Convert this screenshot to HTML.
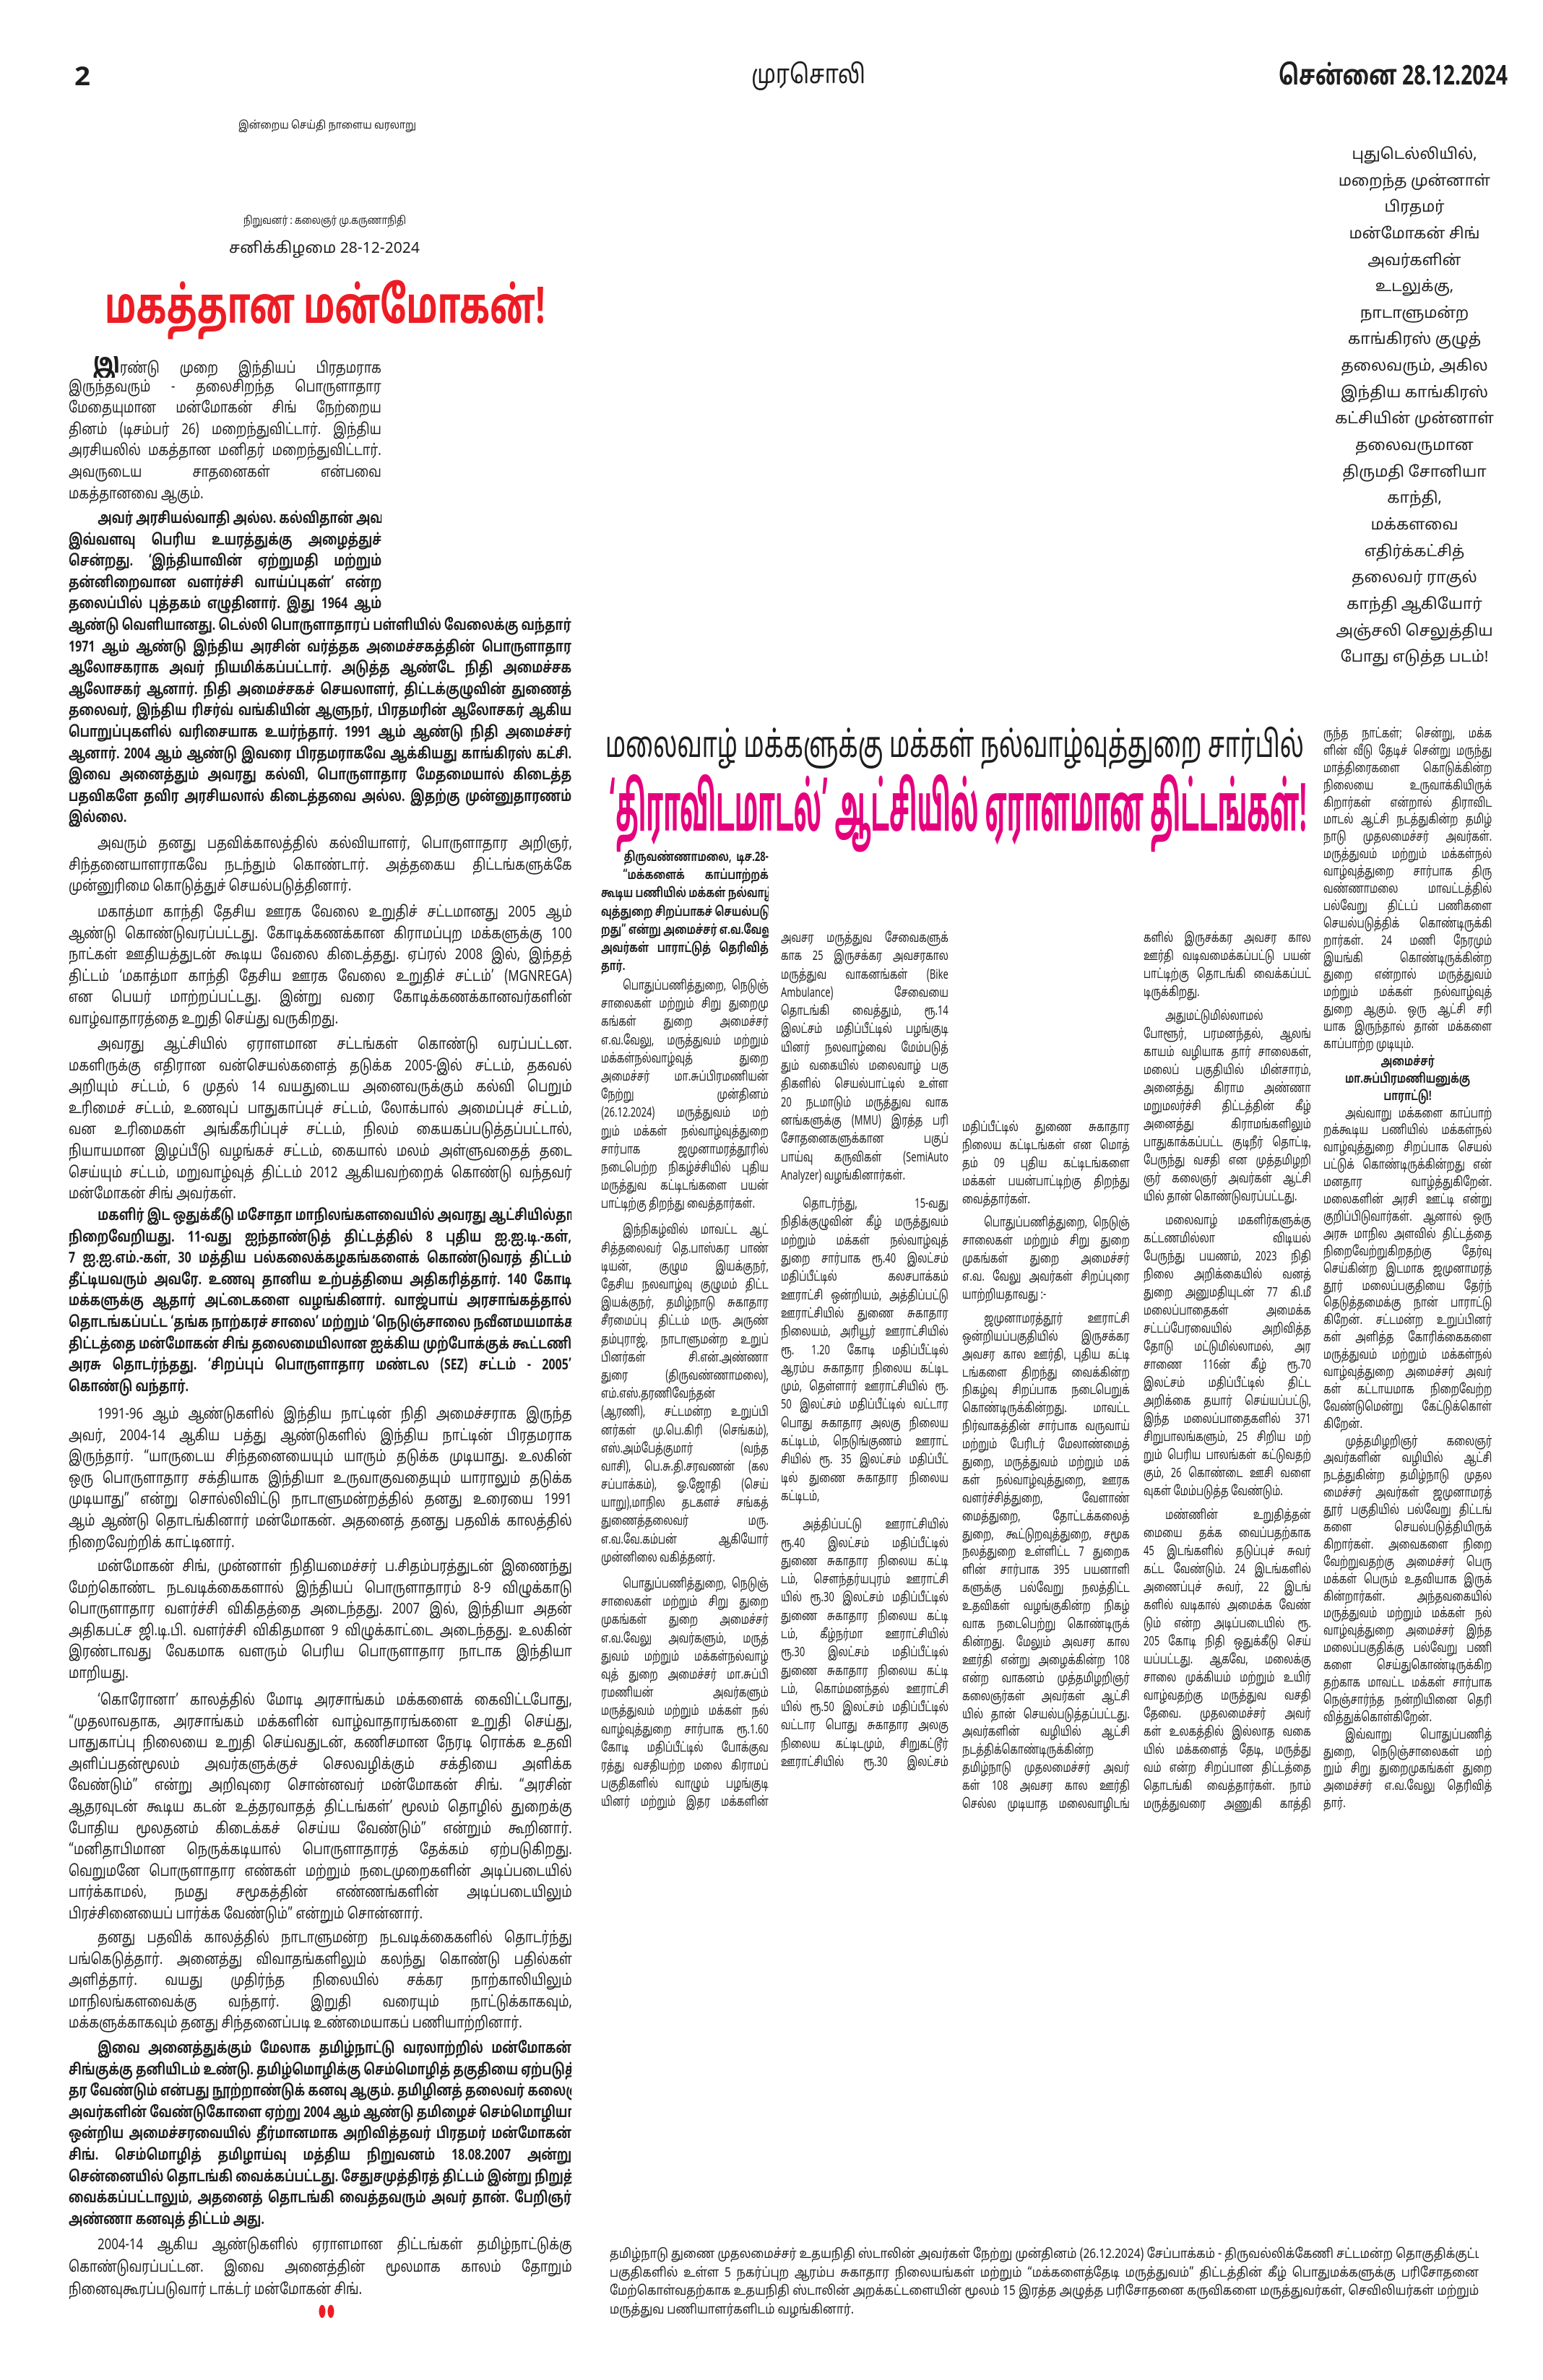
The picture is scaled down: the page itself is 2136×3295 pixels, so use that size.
<!DOCTYPE html>
<html lang="ta">
<head>
<meta charset="utf-8">
<style>
html,body{margin:0;padding:0;background:#fff;}
#pg{position:relative;width:2136px;height:3295px;background:#fff;overflow:hidden;
 font-family:"Noto Sans Tamil","Lohit Tamil","Latha","Liberation Sans","DejaVu Sans",sans-serif;color:#1e1e1e;}
.c{position:absolute;}
.c div{white-space:nowrap;overflow:hidden;text-align:justify;text-align-last:justify;box-sizing:border-box;}
.c div.l{text-align-last:left;}
.c div.ctr{text-align:center;text-align-last:center;font-weight:bold;}
.L{font-size:21px;width:871px;transform:scaleX(0.8);transform-origin:0 0;}
.L div{height:29.6px;line-height:29.6px;}
.L div.n{width:541px;}
.L div.i{padding-left:50px;}
.L.b{width:916px;transform:scaleX(0.76);}
.L.b div.n{width:570px;}
.L.b div.i{padding-left:53px;}
.b{font-weight:bold;}
.M{font-size:18px;width:322px;transform:scaleX(0.72);transform-origin:0 0;}
.M div.i{padding-left:42px;}
.g{margin-top:var(--g);}
.side{position:absolute;left:1800px;width:316px;font-size:21px;text-align:center;}
.side div{height:36.65px;line-height:36.65px;white-space:nowrap;}
svg{position:absolute;left:0;top:0;overflow:visible;}
.k1 div{height:25.2px;line-height:25.2px;}
.k2 div{height:25.3px;line-height:25.3px;}
.k3 div{height:24.9px;line-height:24.9px;}
.k4 div{height:25px;line-height:25px;}
.k5 div{height:23.9px;line-height:23.9px;}
.k6 div{height:25.7px;line-height:25.7px;}
</style>
</head>
<body>
<div id="pg">

<svg width="2136" height="3295" viewBox="0 0 2136 3295">
  <g font-family="Noto Sans Tamil, Lohit Tamil, Liberation Sans, DejaVu Sans, sans-serif">
    <text x="103" y="118" font-size="36" font-weight="bold" fill="#1e1e1e" textLength="22" lengthAdjust="spacingAndGlyphs">2</text>
    <text x="1040" y="115" font-size="36" fill="#1e1e1e" textLength="158" lengthAdjust="spacingAndGlyphs">முரசொலி</text>
    <text x="1770" y="117" font-size="38" font-weight="bold" fill="#1e1e1e" textLength="317" lengthAdjust="spacingAndGlyphs">சென்னை 28.12.2024</text>
    <text x="330" y="178" font-size="15" fill="#1e1e1e" textLength="246" lengthAdjust="spacingAndGlyphs">இன்றைய செய்தி நாளைய வரலாறு</text>
    <text x="337" y="310" font-size="15" fill="#1e1e1e" textLength="225" lengthAdjust="spacingAndGlyphs">நிறுவனர் : கலைஞர் மு.கருணாநிதி</text>
    <text x="317" y="350" font-size="21" fill="#1e1e1e" textLength="264" lengthAdjust="spacingAndGlyphs">சனிக்கிழமை 28-12-2024</text>
    <text x="145" y="447" font-size="70" font-weight="bold" fill="#ed1c24" textLength="610" lengthAdjust="spacingAndGlyphs">மகத்தான மன்மோகன்!</text>
    <text x="838" y="1048" font-size="50" fill="#1e1e1e" textLength="967" lengthAdjust="spacingAndGlyphs">மலைவாழ் மக்களுக்கு மக்கள் நல்வாழ்வுத்துறை சார்பில்</text>
    <text x="843" y="1150" font-size="92" font-weight="bold" fill="#e6007e" textLength="966" lengthAdjust="spacingAndGlyphs">‘திராவிடமாடல்’ ஆட்சியில் ஏராளமான திட்டங்கள்!</text>
    <ellipse cx="446" cy="3200" rx="4.5" ry="9" fill="#ed1c24"/>
    <ellipse cx="458" cy="3200" rx="4.5" ry="9" fill="#ed1c24"/>
  </g>
</svg>

<div class="side" style="top:197px;">
<div>புதுடெல்லியில்,</div><div>மறைந்த முன்னாள்</div><div>பிரதமர்</div><div>மன்மோகன் சிங்</div><div>அவர்களின்</div><div>உடலுக்கு,</div><div>நாடாளுமன்ற</div><div>காங்கிரஸ் குழுத்</div><div>தலைவரும், அகில</div><div>இந்திய காங்கிரஸ்</div><div>கட்சியின் முன்னாள்</div><div>தலைவருமான</div><div>திருமதி சோனியா</div><div>காந்தி,</div><div>மக்களவை</div><div>எதிர்க்கட்சித்</div><div>தலைவர் ராகுல்</div><div>காந்தி ஆகியோர்</div><div>அஞ்சலி செலுத்திய</div><div>போது எடுத்த படம்!</div>
</div>

<!-- LEFT ARTICLE -->
<div class="c L" style="left:95px;top:493px;">
<div class="n" style="padding-left:42px;"><span style="font-size:38px;font-weight:bold;">இ</span>ரண்டு முறை இந்தியப் பிரதமராக</div>
<div class="n">இருந்தவரும் - தலைசிறந்த பொருளாதார</div>
<div class="n">மேதையுமான மன்மோகன் சிங் நேற்றைய</div>
<div class="n">தினம் (டிசம்பர் 26) மறைந்துவிட்டார். இந்திய</div>
<div class="n">அரசியலில் மகத்தான மனிதர் மறைந்துவிட்டார்.</div>
<div class="n">அவருடைய சாதனைகள் என்பவை</div>
<div class="n l">மகத்தானவை ஆகும்.</div>
</div>

<div class="c L b" style="left:95px;top:705px;">
<div class="n i">அவர் அரசியல்வாதி அல்ல. கல்விதான் அவரை</div>
<div class="n">இவ்வளவு பெரிய உயரத்துக்கு அழைத்துச்</div>
<div class="n">சென்றது. ‘இந்தியாவின் ஏற்றுமதி மற்றும்</div>
<div class="n">தன்னிறைவான வளர்ச்சி வாய்ப்புகள்’ என்ற</div>
<div class="n">தலைப்பில் புத்தகம் எழுதினார். இது 1964 ஆம்</div>
<div>ஆண்டு வெளியானது. டெல்லி பொருளாதாரப் பள்ளியில் வேலைக்கு வந்தார்.</div>
<div>1971 ஆம் ஆண்டு இந்திய அரசின் வர்த்தக அமைச்சகத்தின் பொருளாதார</div>
<div>ஆலோசகராக அவர் நியமிக்கப்பட்டார். அடுத்த ஆண்டே நிதி அமைச்சக</div>
<div>ஆலோசகர் ஆனார். நிதி அமைச்சகச் செயலாளர், திட்டக்குழுவின் துணைத்</div>
<div>தலைவர், இந்திய ரிசர்வ் வங்கியின் ஆளுநர், பிரதமரின் ஆலோசகர் ஆகிய</div>
<div>பொறுப்புகளில் வரிசையாக உயர்ந்தார். 1991 ஆம் ஆண்டு நிதி அமைச்சர்</div>
<div>ஆனார். 2004 ஆம் ஆண்டு இவரை பிரதமராகவே ஆக்கியது காங்கிரஸ் கட்சி.</div>
<div>இவை அனைத்தும் அவரது கல்வி, பொருளாதார மேதமையால் கிடைத்த</div>
<div>பதவிகளே தவிர அரசியலால் கிடைத்தவை அல்ல. இதற்கு முன்னுதாரணம்</div>
<div class="l">இல்லை.</div>
</div>

<div class="c L" style="left:95px;top:1155px;">
<div class="i">அவரும் தனது பதவிக்காலத்தில் கல்வியாளர், பொருளாதார அறிஞர்,</div>
<div>சிந்தனையாளராகவே நடந்தும் கொண்டார். அத்தகைய திட்டங்களுக்கே</div>
<div class="l">முன்னுரிமை கொடுத்துச் செயல்படுத்தினார்.</div>
</div>

<div class="c L" style="left:95px;top:1250px;">
<div class="i">மகாத்மா காந்தி தேசிய ஊரக வேலை உறுதிச் சட்டமானது 2005 ஆம்</div>
<div>ஆண்டு கொண்டுவரப்பட்டது. கோடிக்கணக்கான கிராமப்புற மக்களுக்கு 100</div>
<div>நாட்கள் ஊதியத்துடன் கூடிய வேலை கிடைத்தது. ஏப்ரல் 2008 இல், இந்தத்</div>
<div>திட்டம் ‘மகாத்மா காந்தி தேசிய ஊரக வேலை உறுதிச் சட்டம்’ (MGNREGA)</div>
<div>என பெயர் மாற்றப்பட்டது. இன்று வரை கோடிக்கணக்கானவர்களின்</div>
<div class="l">வாழ்வாதாரத்தை உறுதி செய்து வருகிறது.</div>
</div>

<div class="c L" style="left:95px;top:1433px;">
<div class="i">அவரது ஆட்சியில் ஏராளமான சட்டங்கள் கொண்டு வரப்பட்டன.</div>
<div>மகளிருக்கு எதிரான வன்செயல்களைத் தடுக்க 2005-இல் சட்டம், தகவல்</div>
<div>அறியும் சட்டம், 6 முதல் 14 வயதுடைய அனைவருக்கும் கல்வி பெறும்</div>
<div>உரிமைச் சட்டம், உணவுப் பாதுகாப்புச் சட்டம், லோக்பால் அமைப்புச் சட்டம்,</div>
<div>வன உரிமைகள் அங்கீகரிப்புச் சட்டம், நிலம் கையகப்படுத்தப்பட்டால்,</div>
<div>நியாயமான இழப்பீடு வழங்கச் சட்டம், கையால் மலம் அள்ளுவதைத் தடை</div>
<div>செய்யும் சட்டம், மறுவாழ்வுத் திட்டம் 2012 ஆகியவற்றைக் கொண்டு வந்தவர்</div>
<div class="l">மன்மோகன் சிங் அவர்கள்.</div>
</div>

<div class="c L b" style="left:95px;top:1670px;">
<div class="i">மகளிர் இட ஒதுக்கீடு மசோதா மாநிலங்களவையில் அவரது ஆட்சியில்தான்</div>
<div>நிறைவேறியது. 11-வது ஐந்தாண்டுத் திட்டத்தில் 8 புதிய ஐ.ஐ.டி.-கள்,</div>
<div>7 ஐ.ஐ.எம்.-கள், 30 மத்திய பல்கலைக்கழகங்களைக் கொண்டுவரத் திட்டம்</div>
<div>தீட்டியவரும் அவரே. உணவு தானிய உற்பத்தியை அதிகரித்தார். 140 கோடி</div>
<div>மக்களுக்கு ஆதார் அட்டைகளை வழங்கினார். வாஜ்பாய் அரசாங்கத்தால்</div>
<div>தொடங்கப்பட்ட ‘தங்க நாற்கரச் சாலை’ மற்றும் ‘நெடுஞ்சாலை நவீனமயமாக்கல்’</div>
<div>திட்டத்தை மன்மோகன் சிங் தலைமையிலான ஐக்கிய முற்போக்குக் கூட்டணி</div>
<div>அரசு தொடர்ந்தது. ‘சிறப்புப் பொருளாதார மண்டல (SEZ) சட்டம் - 2005’</div>
<div class="l">கொண்டு வந்தார்.</div>
</div>

<div class="c L" style="left:95px;top:1945px;">
<div class="i">1991-96 ஆம் ஆண்டுகளில் இந்திய நாட்டின் நிதி அமைச்சராக இருந்த</div>
<div>அவர், 2004-14 ஆகிய பத்து ஆண்டுகளில் இந்திய நாட்டின் பிரதமராக</div>
<div>இருந்தார். “யாருடைய சிந்தனையையும் யாரும் தடுக்க முடியாது. உலகின்</div>
<div>ஒரு பொருளாதார சக்தியாக இந்தியா உருவாகுவதையும் யாராலும் தடுக்க</div>
<div>முடியாது” என்று சொல்லிவிட்டு நாடாளுமன்றத்தில் தனது உரையை 1991</div>
<div>ஆம் ஆண்டு தொடங்கினார் மன்மோகன். அதனைத் தனது பதவிக் காலத்தில்</div>
<div class="l">நிறைவேற்றிக் காட்டினார்.</div>
</div>

<div class="c L" style="left:95px;top:2156px;">
<div class="i">மன்மோகன் சிங், முன்னாள் நிதியமைச்சர் ப.சிதம்பரத்துடன் இணைந்து</div>
<div>மேற்கொண்ட நடவடிக்கைகளால் இந்தியப் பொருளாதாரம் 8-9 விழுக்காடு</div>
<div>பொருளாதார வளர்ச்சி விகிதத்தை அடைந்தது. 2007 இல், இந்தியா அதன்</div>
<div>அதிகபட்ச ஜி.டி.பி. வளர்ச்சி விகிதமான 9 விழுக்காட்டை அடைந்தது. உலகின்</div>
<div>இரண்டாவது வேகமாக வளரும் பெரிய பொருளாதார நாடாக இந்தியா</div>
<div class="l">மாறியது.</div>
</div>

<div class="c L" style="left:95px;top:2341px;">
<div class="i">‘கொரோனா’ காலத்தில் மோடி அரசாங்கம் மக்களைக் கைவிட்டபோது,</div>
<div>“முதலாவதாக, அரசாங்கம் மக்களின் வாழ்வாதாரங்களை உறுதி செய்து,</div>
<div>பாதுகாப்பு நிலையை உறுதி செய்வதுடன், கணிசமான நேரடி ரொக்க உதவி</div>
<div>அளிப்பதன்மூலம் அவர்களுக்குச் செலவழிக்கும் சக்தியை அளிக்க</div>
<div>வேண்டும்” என்று அறிவுரை சொன்னவர் மன்மோகன் சிங். “அரசின்</div>
<div>ஆதரவுடன் கூடிய கடன் உத்தரவாதத் திட்டங்கள்’ மூலம் தொழில் துறைக்கு</div>
<div>போதிய மூலதனம் கிடைக்கச் செய்ய வேண்டும்” என்றும் கூறினார்.</div>
<div>“மனிதாபிமான நெருக்கடியால் பொருளாதாரத் தேக்கம் ஏற்படுகிறது.</div>
<div>வெறுமனே பொருளாதார எண்கள் மற்றும் நடைமுறைகளின் அடிப்படையில்</div>
<div>பார்க்காமல், நமது சமூகத்தின் எண்ணங்களின் அடிப்படையிலும்</div>
<div class="l">பிரச்சினையைப் பார்க்க வேண்டும்” என்றும் சொன்னார்.</div>
</div>

<div class="c L" style="left:95px;top:2670px;">
<div class="i">தனது பதவிக் காலத்தில் நாடாளுமன்ற நடவடிக்கைகளில் தொடர்ந்து</div>
<div>பங்கெடுத்தார். அனைத்து விவாதங்களிலும் கலந்து கொண்டு பதில்கள்</div>
<div>அளித்தார். வயது முதிர்ந்த நிலையில் சக்கர நாற்காலியிலும்</div>
<div>மாநிலங்களவைக்கு வந்தார். இறுதி வரையும் நாட்டுக்காகவும்,</div>
<div class="l">மக்களுக்காகவும் தனது சிந்தனைப்படி உண்மையாகப் பணியாற்றினார்.</div>
</div>

<div class="c L b" style="left:95px;top:2823px;">
<div class="i">இவை அனைத்துக்கும் மேலாக தமிழ்நாட்டு வரலாற்றில் மன்மோகன்</div>
<div>சிங்குக்கு தனியிடம் உண்டு. தமிழ்மொழிக்கு செம்மொழித் தகுதியை ஏற்படுத்தித்</div>
<div>தர வேண்டும் என்பது நூற்றாண்டுக் கனவு ஆகும். தமிழினத் தலைவர் கலைஞர்</div>
<div>அவர்களின் வேண்டுகோளை ஏற்று 2004 ஆம் ஆண்டு தமிழைச் செம்மொழியாக</div>
<div>ஒன்றிய அமைச்சரவையில் தீர்மானமாக அறிவித்தவர் பிரதமர் மன்மோகன்</div>
<div>சிங். செம்மொழித் தமிழாய்வு மத்திய நிறுவனம் 18.08.2007 அன்று</div>
<div>சென்னையில் தொடங்கி வைக்கப்பட்டது. சேதுசமுத்திரத் திட்டம் இன்று நிறுத்தி</div>
<div>வைக்கப்பட்டாலும், அதனைத் தொடங்கி வைத்தவரும் அவர் தான். பேறிஞர்</div>
<div class="l">அண்ணா கனவுத் திட்டம் அது.</div>
</div>

<div class="c L" style="left:95px;top:3094px;">
<div class="i" style="height:31px;line-height:31px;">2004-14 ஆகிய ஆண்டுகளில் ஏராளமான திட்டங்கள் தமிழ்நாட்டுக்கு</div>
<div style="height:31px;line-height:31px;">கொண்டுவரப்பட்டன. இவை அனைத்தின் மூலமாக காலம் தோறும்</div>
<div class="l" style="height:31px;line-height:31px;">நினைவுகூரப்படுவார் டாக்டர் மன்மோகன் சிங்.</div>
</div>

<!-- MIDDLE ARTICLE COLUMNS -->
<div class="c M b k1" style="left:832px;top:1175px;">
<div style="padding-left:44px;">திருவண்ணாமலை, டிச.28-</div>
<div style="padding-left:42px;">“மக்களைக் காப்பாற்றக்</div>
<div>கூடிய பணியில் மக்கள் நல்வாழ்</div>
<div>வுத்துறை சிறப்பாகச் செயல்படுகி</div>
<div>றது” என்று அமைச்சர் எ.வ.வேலு</div>
<div>அவர்கள் பாராட்டுத் தெரிவித்</div>
<div class="l">தார்.</div>
</div>

<div class="c M k1" style="left:832px;top:1353px;--g:11px;">
<div class="i">பொதுப்பணித்துறை, நெடுஞ்</div>
<div>சாலைகள் மற்றும் சிறு துறைமு</div>
<div>கங்கள் துறை அமைச்சர்</div>
<div>எ.வ.வேலு, மருத்துவம் மற்றும்</div>
<div>மக்கள்நல்வாழ்வுத் துறை</div>
<div>அமைச்சர் மா.சுப்பிரமணியன்</div>
<div>நேற்று முன்தினம்</div>
<div>(26.12.2024) மருத்துவம் மற்</div>
<div>றும் மக்கள் நல்வாழ்வுத்துறை</div>
<div>சார்பாக ஜமுனாமரத்தூரில்</div>
<div>நடைபெற்ற நிகழ்ச்சியில் புதிய</div>
<div>மருத்துவ கட்டிடங்களை பயன்</div>
<div class="l">பாட்டிற்கு திறந்து வைத்தார்கள்.</div>
<div class="i g">இந்நிகழ்வில் மாவட்ட ஆட்</div>
<div>சித்தலைவர் தெ.பாஸ்கர பாண்</div>
<div>டியன், குழும இயக்குநர்,</div>
<div>தேசிய நலவாழ்வு குழுமம் திட்ட</div>
<div>இயக்குநர், தமிழ்நாடு சுகாதார</div>
<div>சீரமைப்பு திட்டம் மரு. அருண்</div>
<div>தம்புராஜ், நாடாளுமன்ற உறுப்</div>
<div>பினர்கள் சி.என்.அண்ணா</div>
<div>துரை (திருவண்ணாமலை),</div>
<div>எம்.எஸ்.தரணிவேந்தன்</div>
<div>(ஆரணி), சட்டமன்ற உறுப்பி</div>
<div>னர்கள் மு.பெ.கிரி (செங்கம்),</div>
<div>எஸ்.அம்பேத்குமார் (வந்த</div>
<div>வாசி), பெ.சு.தி.சரவணன் (கல</div>
<div>சப்பாக்கம்), ஓ.ஜோதி (செய்</div>
<div>யாறு),மாநில தடகளச் சங்கத்</div>
<div>துணைத்தலைவர் மரு.</div>
<div>எ.வ.வே.கம்பன் ஆகியோர்</div>
<div class="l">முன்னிலை வகித்தனர்.</div>
<div class="i g">பொதுப்பணித்துறை, நெடுஞ்</div>
<div>சாலைகள் மற்றும் சிறு துறை</div>
<div>முகங்கள் துறை அமைச்சர்</div>
<div>எ.வ.வேலு அவர்களும், மருத்</div>
<div>துவம் மற்றும் மக்கள்நல்வாழ்</div>
<div>வுத் துறை அமைச்சர் மா.சுப்பி</div>
<div>ரமணியன் அவர்களும்</div>
<div>மருத்துவம் மற்றும் மக்கள் நல்</div>
<div>வாழ்வுத்துறை சார்பாக ரூ.1.60</div>
<div>கோடி மதிப்பீட்டில் போக்குவ</div>
<div>ரத்து வசதியற்ற மலை கிராமப்</div>
<div>பகுதிகளில் வாழும் பழங்குடி</div>
<div>யினர் மற்றும் இதர மக்களின்</div>
</div>

<div class="c M k2" style="left:1081px;top:1287px;--g:14px;">
<div>அவசர மருத்துவ சேவைகளுக்</div>
<div>காக 25 இருசக்கர அவசரகால</div>
<div>மருத்துவ வாகனங்கள் (Bike</div>
<div>Ambulance) சேவையை</div>
<div>தொடங்கி வைத்தும், ரூ.14</div>
<div>இலட்சம் மதிப்பீட்டில் பழங்குடி</div>
<div>யினர் நலவாழ்வை மேம்படுத்</div>
<div>தும் வகையில் மலைவாழ் பகு</div>
<div>திகளில் செயல்பாட்டில் உள்ள</div>
<div>20 நடமாடும் மருத்துவ வாக</div>
<div>னங்களுக்கு (MMU) இரத்த பரி</div>
<div>சோதனைகளுக்கான பகுப்</div>
<div>பாய்வு கருவிகள் (SemiAuto</div>
<div class="l">Analyzer) வழங்கினார்கள்.</div>
<div class="i g">தொடர்ந்து, 15-வது</div>
<div>நிதிக்குழுவின் கீழ் மருத்துவம்</div>
<div>மற்றும் மக்கள் நல்வாழ்வுத்</div>
<div>துறை சார்பாக ரூ.40 இலட்சம்</div>
<div>மதிப்பீட்டில் கலசபாக்கம்</div>
<div>ஊராட்சி ஒன்றியம், அத்திப்பட்டு</div>
<div>ஊராட்சியில் துணை சுகாதார</div>
<div>நிலையம், அரியூர் ஊராட்சியில்</div>
<div>ரூ. 1.20 கோடி மதிப்பீட்டில்</div>
<div>ஆரம்ப சுகாதார நிலைய கட்டிட</div>
<div>மும், தெள்ளார் ஊராட்சியில் ரூ.</div>
<div>50 இலட்சம் மதிப்பீட்டில் வட்டார</div>
<div>பொது சுகாதார அலகு நிலைய</div>
<div>கட்டிடம், நெடுங்குணம் ஊராட்</div>
<div>சியில் ரூ. 35 இலட்சம் மதிப்பீட்</div>
<div>டில் துணை சுகாதார நிலைய</div>
<div class="l">கட்டிடம்,</div>
<div class="i g">அத்திப்பட்டு ஊராட்சியில்</div>
<div>ரூ.40 இலட்சம் மதிப்பீட்டில்</div>
<div>துணை சுகாதார நிலைய கட்டி</div>
<div>டம், சௌந்தர்யபுரம் ஊராட்சி</div>
<div>யில் ரூ.30 இலட்சம் மதிப்பீட்டில்</div>
<div>துணை சுகாதார நிலைய கட்டி</div>
<div>டம், கீழ்நர்மா ஊராட்சியில்</div>
<div>ரூ.30 இலட்சம் மதிப்பீட்டில்</div>
<div>துணை சுகாதார நிலைய கட்டி</div>
<div>டம், கொம்மனந்தல் ஊராட்சி</div>
<div>யில் ரூ.50 இலட்சம் மதிப்பீட்டில்</div>
<div>வட்டார பொது சுகாதார அலகு</div>
<div>நிலைய கட்டிடமும், சிறுகட்டூர்</div>
<div>ஊராட்சியில் ரூ.30 இலட்சம்</div>
</div>

<div class="c M k3" style="left:1332px;top:1550px;--g:8px;">
<div>மதிப்பீட்டில் துணை சுகாதார</div>
<div>நிலைய கட்டிடங்கள் என மொத்</div>
<div>தம் 09 புதிய கட்டிடங்களை</div>
<div>மக்கள் பயன்பாட்டிற்கு திறந்து</div>
<div class="l">வைத்தார்கள்.</div>
<div class="i g">பொதுப்பணித்துறை, நெடுஞ்</div>
<div>சாலைகள் மற்றும் சிறு துறை</div>
<div>முகங்கள் துறை அமைச்சர்</div>
<div>எ.வ. வேலு அவர்கள் சிறப்புரை</div>
<div class="l">யாற்றியதாவது :-</div>
<div class="i g">ஜமுனாமரத்தூர் ஊராட்சி</div>
<div>ஒன்றியப்பகுதியில் இருசக்கர</div>
<div>அவசர கால ஊர்தி, புதிய கட்டி</div>
<div>டங்களை திறந்து வைக்கின்ற</div>
<div>நிகழ்வு சிறப்பாக நடைபெறுக்</div>
<div>கொண்டிருக்கின்றது. மாவட்ட</div>
<div>நிர்வாகத்தின் சார்பாக வருவாய்</div>
<div>மற்றும் பேரிடர் மேலாண்மைத்</div>
<div>துறை, மருத்துவம் மற்றும் மக்</div>
<div>கள் நல்வாழ்வுத்துறை, ஊரக</div>
<div>வளர்ச்சித்துறை, வேளாண்</div>
<div>மைத்துறை, தோட்டக்கலைத்</div>
<div>துறை, கூட்டுறவுத்துறை, சமூக</div>
<div>நலத்துறை உள்ளிட்ட 7 துறைக</div>
<div>ளின் சார்பாக 395 பயனாளி</div>
<div>களுக்கு பல்வேறு நலத்திட்ட</div>
<div>உதவிகள் வழங்குகின்ற நிகழ்</div>
<div>வாக நடைபெற்று கொண்டிருக்</div>
<div>கின்றது. மேலும் அவசர கால</div>
<div>ஊர்தி என்று அழைக்கின்ற 108</div>
<div>என்ற வாகனம் முத்தமிழறிஞர்</div>
<div>கலைஞர்கள் அவர்கள் ஆட்சி</div>
<div>யில் தான் செயல்படுத்தப்பட்டது.</div>
<div>அவர்களின் வழியில் ஆட்சி</div>
<div>நடத்திக்கொண்டிருக்கின்ற</div>
<div>தமிழ்நாடு முதலமைச்சர் அவர்</div>
<div>கள் 108 அவசர கால ஊர்தி</div>
<div>செல்ல முடியாத மலைவாழிடங்</div>
</div>

<div class="c M k4" style="left:1583px;top:1287px;--g:8px;">
<div>களில் இருசக்கர அவசர கால</div>
<div>ஊர்தி வடிவமைக்கப்பட்டு பயன்</div>
<div>பாட்டிற்கு தொடங்கி வைக்கப்பட்</div>
<div class="l">டிருக்கிறது.</div>
<div class="i g">அதுமட்டுமில்லாமல்</div>
<div>போளூர், பரமனந்தல், ஆலங்</div>
<div>காயம் வழியாக தார் சாலைகள்,</div>
<div>மலைப் பகுதியில் மின்சாரம்,</div>
<div>அனைத்து கிராம அண்ணா</div>
<div>மறுமலர்ச்சி திட்டத்தின் கீழ்</div>
<div>அனைத்து கிராமங்களிலும்</div>
<div>பாதுகாக்கப்பட்ட குடிநீர் தொட்டி,</div>
<div>பேருந்து வசதி என முத்தமிழறி</div>
<div>ஞர் கலைஞர் அவர்கள் ஆட்சி</div>
<div class="l">யில் தான் கொண்டுவரப்பட்டது.</div>
<div class="i g">மலைவாழ் மகளிர்களுக்கு</div>
<div>கட்டணமில்லா விடியல்</div>
<div>பேருந்து பயணம், 2023 நிதி</div>
<div>நிலை அறிக்கையில் வனத்</div>
<div>துறை அனுமதியுடன் 77 கி.மீ</div>
<div>மலைப்பாதைகள் அமைக்க</div>
<div>சட்டப்பேரவையில் அறிவித்த</div>
<div>தோடு மட்டுமில்லாமல், அர</div>
<div>சாணை 116ன் கீழ் ரூ.70</div>
<div>இலட்சம் மதிப்பீட்டில் திட்ட</div>
<div>அறிக்கை தயார் செய்யப்பட்டு,</div>
<div>இந்த மலைப்பாதைகளில் 371</div>
<div>சிறுபாலங்களும், 25 சிறிய மற்</div>
<div>றும் பெரிய பாலங்கள் கட்டுவதற்</div>
<div>கும், 26 கொண்டை ஊசி வளை</div>
<div class="l">வுகள் மேம்படுத்த வேண்டும்.</div>
<div class="i g">மண்ணின் உறுதித்தன்</div>
<div>மையை தக்க வைப்பதற்காக</div>
<div>45 இடங்களில் தடுப்புச் சுவர்</div>
<div>கட்ட வேண்டும். 24 இடங்களில்</div>
<div>அணைப்புச் சுவர், 22 இடங்</div>
<div>களில் வடிகால் அமைக்க வேண்</div>
<div>டும் என்ற அடிப்படையில் ரூ.</div>
<div>205 கோடி நிதி ஒதுக்கீடு செய்</div>
<div>யப்பட்டது. ஆகவே, மலைக்கு</div>
<div>சாலை முக்கியம் மற்றும் உயிர்</div>
<div>வாழ்வதற்கு மருத்துவ வசதி</div>
<div>தேவை. முதலமைச்சர் அவர்</div>
<div>கள் உலகத்தில் இல்லாத வகை</div>
<div>யில் மக்களைத் தேடி, மருத்து</div>
<div>வம் என்ற சிறப்பான திட்டத்தை</div>
<div>தொடங்கி வைத்தார்கள். நாம்</div>
<div>மருத்துவரை அணுகி காத்தி</div>
</div>

<div class="c M k5" style="left:1832px;top:1005px;width:324px;">
<div>ருந்த நாட்கள்; சென்று, மக்க</div>
<div>ளின் வீடு தேடிச் சென்று மருந்து</div>
<div>மாத்திரைகளை கொடுக்கின்ற</div>
<div>நிலையை உருவாக்கியிருக்</div>
<div>கிறார்கள் என்றால் திராவிட</div>
<div>மாடல் ஆட்சி நடத்துகின்ற தமிழ்</div>
<div>நாடு முதலமைச்சர் அவர்கள்.</div>
<div>மருத்துவம் மற்றும் மக்கள்நல்</div>
<div>வாழ்வுத்துறை சார்பாக திரு</div>
<div>வண்ணாமலை மாவட்டத்தில்</div>
<div>பல்வேறு திட்டப் பணிகளை</div>
<div>செயல்படுத்திக் கொண்டிருக்கி</div>
<div>றார்கள். 24 மணி நேரமும்</div>
<div>இயங்கி கொண்டிருக்கின்ற</div>
<div>துறை என்றால் மருத்துவம்</div>
<div>மற்றும் மக்கள் நல்வாழ்வுத்</div>
<div>துறை ஆகும். ஒரு ஆட்சி சரி</div>
<div>யாக இருந்தால் தான் மக்களை</div>
<div class="l">காப்பாற்ற முடியும்.</div>
<div class="ctr">அமைச்சர்</div>
<div class="ctr">மா.சுப்பிரமணியனுக்கு</div>
<div class="ctr">பாராட்டு!</div>
<div class="i">அவ்வாறு மக்களை காப்பாற்</div>
<div>றக்கூடிய பணியில் மக்கள்நல்</div>
<div>வாழ்வுத்துறை சிறப்பாக செயல்</div>
<div>பட்டுக் கொண்டிருக்கின்றது என்</div>
<div>மனதார வாழ்த்துகிறேன்.</div>
<div>மலைகளின் அரசி ஊட்டி என்று</div>
<div>குறிப்பிடுவார்கள். ஆனால் ஒரு</div>
<div>அரசு மாநில அளவில் திட்டத்தை</div>
<div>நிறைவேற்றுகிறதற்கு தேர்வு</div>
<div>செய்கின்ற இடமாக ஜமுனாமரத்</div>
<div>தூர் மலைப்பகுதியை தேர்ந்</div>
<div>தெடுத்தமைக்கு நான் பாராட்டு</div>
<div>கிறேன். சட்டமன்ற உறுப்பினர்</div>
<div>கள் அளித்த கோரிக்கைகளை</div>
<div>மருத்துவம் மற்றும் மக்கள்நல்</div>
<div>வாழ்வுத்துறை அமைச்சர் அவர்</div>
<div>கள் கட்டாயமாக நிறைவேற்ற</div>
<div>வேண்டுமென்று கேட்டுக்கொள்</div>
<div class="l">கிறேன்.</div>
<div class="i">முத்தமிழறிஞர் கலைஞர்</div>
<div>அவர்களின் வழியில் ஆட்சி</div>
<div>நடத்துகின்ற தமிழ்நாடு முதல</div>
<div>மைச்சர் அவர்கள் ஜமுனாமரத்</div>
<div>தூர் பகுதியில் பல்வேறு திட்டங்</div>
<div>களை செயல்படுத்தியிருக்</div>
<div>கிறார்கள். அவைகளை நிறை</div>
<div>வேற்றுவதற்கு அமைச்சர் பெரு</div>
<div>மக்கள் பெரும் உதவியாக இருக்</div>
<div>கின்றார்கள். அந்தவகையில்</div>
<div>மருத்துவம் மற்றும் மக்கள் நல்</div>
<div>வாழ்வுத்துறை அமைச்சர் இந்த</div>
<div>மலைப்பகுதிக்கு பல்வேறு பணி</div>
<div>களை செய்துகொண்டிருக்கிற</div>
<div>தற்காக மாவட்ட மக்கள் சார்பாக</div>
<div>நெஞ்சார்ந்த நன்றியினை தெரி</div>
<div class="l">வித்துக்கொள்கிறேன்.</div>
<div class="i">இவ்வாறு பொதுப்பணித்</div>
<div>துறை, நெடுஞ்சாலைகள் மற்</div>
<div>றும் சிறு துறைமுகங்கள் துறை</div>
<div>அமைச்சர் எ.வ.வேலு தெரிவித்</div>
<div class="l">தார்.</div>
</div>

<!-- caption -->
<div class="c k6" style="left:844px;top:3109px;width:1399px;font-size:18px;transform:scaleX(0.86);transform-origin:0 0;">
<div>தமிழ்நாடு துணை முதலமைச்சர் உதயநிதி ஸ்டாலின் அவர்கள் நேற்று முன்தினம் (26.12.2024) சேப்பாக்கம் - திருவல்லிக்கேணி சட்டமன்ற தொகுதிக்குட்பட்ட</div>
<div>பகுதிகளில் உள்ள 5 நகர்ப்புற ஆரம்ப சுகாதார நிலையங்கள் மற்றும் “மக்களைத்தேடி மருத்துவம்” திட்டத்தின் கீழ் பொதுமக்களுக்கு பரிசோதனை</div>
<div>மேற்கொள்வதற்காக உதயநிதி ஸ்டாலின் அறக்கட்டளையின் மூலம் 15 இரத்த அழுத்த பரிசோதனை கருவிகளை மருத்துவர்கள், செவிலியர்கள் மற்றும்</div>
<div class="l">மருத்துவ பணியாளர்களிடம் வழங்கினார்.</div>
</div>

</div>
</body>
</html>
